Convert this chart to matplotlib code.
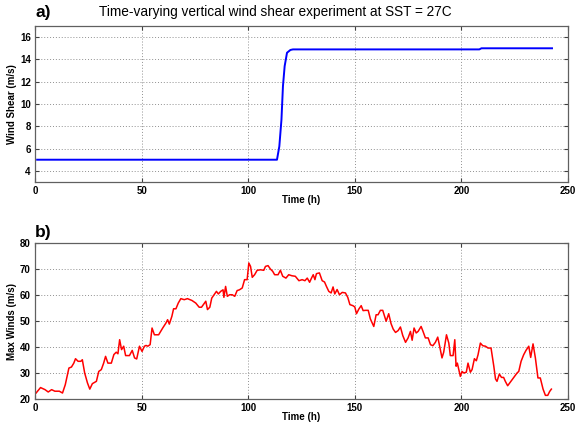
import matplotlib
matplotlib.use("Agg")
import matplotlib.pyplot as plt

# ---- data ----
shear_t = [1, 113.5, 114.6, 115.6, 116.3, 117.1, 118.2, 119.8, 121, 208.4, 209.4, 242.5]
shear_v = [5.0, 5.0, 6.2, 8.6, 11.6, 13.4, 14.6, 14.85, 14.9, 14.9, 15.0, 15.0]

wind_t = [0.5, 2.6, 4.7, 6.2, 7.8, 9.3, 11.4, 12.9, 14.2, 15.9, 17.1, 18.2, 19.0, 20.2,
          21.5, 22.2, 23.3, 24.6, 25.7, 26.9, 28.8, 29.9, 31.1, 32.2, 33.1, 34.2, 35.8,
          37.0, 38.1, 38.9, 39.7, 40.6, 41.6, 42.5, 44.3, 45.6, 46.7, 47.7, 49.0, 50.2,
          51.3, 52.1, 52.9, 54.0, 54.9, 56.0, 58.0, 59.9, 61.4, 62.2, 63.0, 64.2, 65.0,
          66.1, 67.2, 68.4, 70.0, 71.5, 73.6, 75.4, 77.0, 78.1, 79.3, 80.1, 80.9, 82.0,
          82.9, 84.0, 85.1, 86.0, 87.1, 88.2, 88.6, 89.4, 90.2, 91.3, 92.5, 93.7, 94.8,
          95.9, 97.2, 98.3, 99.5, 100.3, 101.1, 101.9, 103.0, 104.2, 105.8, 107.3, 108.1,
          109.3, 110.4, 111.5, 112.4, 114.0, 115.1, 116.2, 117.7, 119.0, 120.5, 122.1,
          123.8, 125.3, 126.6, 127.7, 128.8, 129.7, 130.5, 131.3, 132.0, 133.4, 134.7,
          135.8, 136.7, 137.8, 138.9, 139.8, 140.6, 141.7, 142.8, 144.1, 145.6, 146.7,
          147.7, 149.1, 150.0, 150.8, 151.9, 153.0, 153.9, 155.0, 156.3, 157.3, 158.9,
          160.0, 160.9, 162.0, 163.1, 164.1, 164.7, 165.9, 167.0, 168.0, 169.1, 170.3,
          171.4, 172.5, 173.8, 175.0, 176.1, 176.9, 177.8, 178.8, 179.7, 181.1, 182.0,
          183.1, 184.4, 185.5, 186.6, 187.8, 188.9, 189.8, 190.9, 191.7, 193.0, 194.1,
          194.8, 196.1, 196.9, 197.5, 198.1, 198.8, 199.5, 200.3, 201.1, 202.3, 203.1,
          204.2, 205.0, 206.1, 207.0, 207.8, 208.9, 210.0, 211.3, 212.5, 213.9, 215.2,
          216.0, 216.7, 217.8, 218.8, 219.8, 220.6, 221.7, 222.7, 223.8, 225.0, 226.1,
          226.9, 228.0, 229.2, 230.3, 231.6, 232.5, 233.6, 234.7, 235.9, 237.0, 238.3,
          239.4, 240.5, 241.4, 242.2]
wind_v = [22.3, 24.4, 23.6, 22.7, 23.6, 23.0, 23.0, 22.3, 25.5, 31.9, 32.3, 33.8, 35.5, 34.5,
          34.5, 35.1, 30.0, 26.2, 23.8, 25.9, 26.8, 30.6, 31.3, 33.8, 36.4, 33.8, 33.8,
          37.1, 38.0, 37.4, 42.8, 39.0, 40.3, 36.7, 36.7, 38.7, 35.8, 35.4, 40.3, 38.3,
          40.3, 40.6, 40.3, 40.9, 47.3, 44.7, 44.7, 47.3, 49.2, 50.5, 48.8, 51.8, 54.7,
          54.7, 56.9, 58.6, 58.2, 58.6, 57.9, 56.9, 55.3, 55.3, 56.7, 57.6, 54.4, 55.3,
          58.8, 60.1, 61.4, 60.4, 61.4, 62.0, 59.1, 63.3, 59.5, 60.1, 60.1, 59.5, 61.7,
          62.0, 62.7, 65.9, 65.9, 72.3, 71.0, 66.8, 67.8, 69.5, 69.7, 69.5, 71.0,
          71.3, 70.0, 69.1, 67.8, 67.8, 69.5, 67.2, 66.5, 67.8, 67.4, 67.2,
          65.5, 65.9, 65.5, 66.5, 64.9, 66.5, 67.8, 65.9, 68.2, 68.5, 65.5,
          65.0, 63.3, 61.4, 60.8, 63.1, 60.4, 62.1, 60.1, 61.0, 60.8, 59.1,
          56.3, 55.9, 55.4, 52.8, 54.6, 55.9, 54.0, 54.1, 54.1, 50.8, 47.9,
          52.4, 52.4, 54.1, 54.1, 51.5, 49.9, 52.8, 49.0, 46.9, 45.6, 46.3,
          47.7, 44.4, 41.8, 43.5, 46.0, 42.6, 47.3, 45.4, 46.0, 47.9, 46.0,
          43.5, 43.5, 40.9, 40.5, 41.8, 43.8, 40.3, 35.8, 38.0, 44.7, 41.5,
          36.7, 36.7, 42.8, 32.6, 33.8, 31.3, 28.7, 30.6, 30.0, 30.3, 33.8,
          30.3, 31.3, 35.5, 34.7, 37.0, 41.5, 40.5, 40.3, 39.6, 39.6, 32.6,
          27.7, 26.8, 29.6, 28.3, 28.3, 26.8, 25.1, 26.2, 27.4, 28.7, 30.0,
          30.6, 34.5, 37.0, 38.7, 40.3, 36.0, 41.2, 35.8, 28.1, 28.1, 23.8,
          21.4, 21.4, 22.9, 23.8]

title = "Time-varying vertical wind shear experiment at SST = 27C"

# ---- figure ----
W, H = 577, 424
fig = plt.figure(figsize=(W / 100, H / 100), dpi=100)
fig.patch.set_facecolor("white")

FAM = ["Liberation Sans", "DejaVu Sans"]
label_font = dict(family=FAM, weight="bold", size=7)


def style(ax, ylim, yticks, ylabel):
    ax.set_xlim(0, 250)
    ax.set_ylim(*ylim)
    ax.set_xticks([0, 50, 100, 150, 200, 250])
    ax.set_yticks(yticks)
    ax.grid(True, linestyle=(0, (1, 2)), color="#909090", linewidth=0.7)
    ax.tick_params(direction="in", length=3, width=0.8, top=True, right=True,
                   colors="#404040", pad=3)
    for lab in ax.get_xticklabels() + ax.get_yticklabels():
        lab.set_family(FAM)
        lab.set_weight("bold")
        lab.set_fontsize(7)
        lab.set_color("black")
    for s in ax.spines.values():
        s.set_color("#606060")
        s.set_linewidth(0.9)
    ax.set_xlabel("Time (h)", fontdict=label_font, labelpad=-1)
    ax.set_ylabel(ylabel, fontdict=label_font, labelpad=2)


ax1 = fig.add_axes([35 / W, 1 - 182 / H, 533 / W, 156 / H])
ax1.plot(shear_t, shear_v, color="#0000ff", linewidth=1.4)
style(ax1, (3, 17), [4, 6, 8, 10, 12, 14, 16], "Wind Shear (m/s)")

ax2 = fig.add_axes([35 / W, 1 - 399 / H, 533 / W, 156 / H])
ax2.plot(wind_t, wind_v, color="#ff0000", linewidth=1.1)
style(ax2, (20, 80), [20, 30, 40, 50, 60, 70, 80], "Max Winds (m/s)")

fig.text(275 / W, 1 - 12 / H, title, ha="center", va="center", fontsize=9.8,
         family=FAM)
fig.text(35 / W, 1 - 13 / H, "a)", ha="left", va="center", fontsize=12.5, weight="bold",
         family=FAM)
fig.text(35 / W, 1 - 232 / H, "b)", ha="left", va="center", fontsize=12.5, weight="bold",
         family=FAM)

fig.savefig("out.png", dpi=100, facecolor="white")
